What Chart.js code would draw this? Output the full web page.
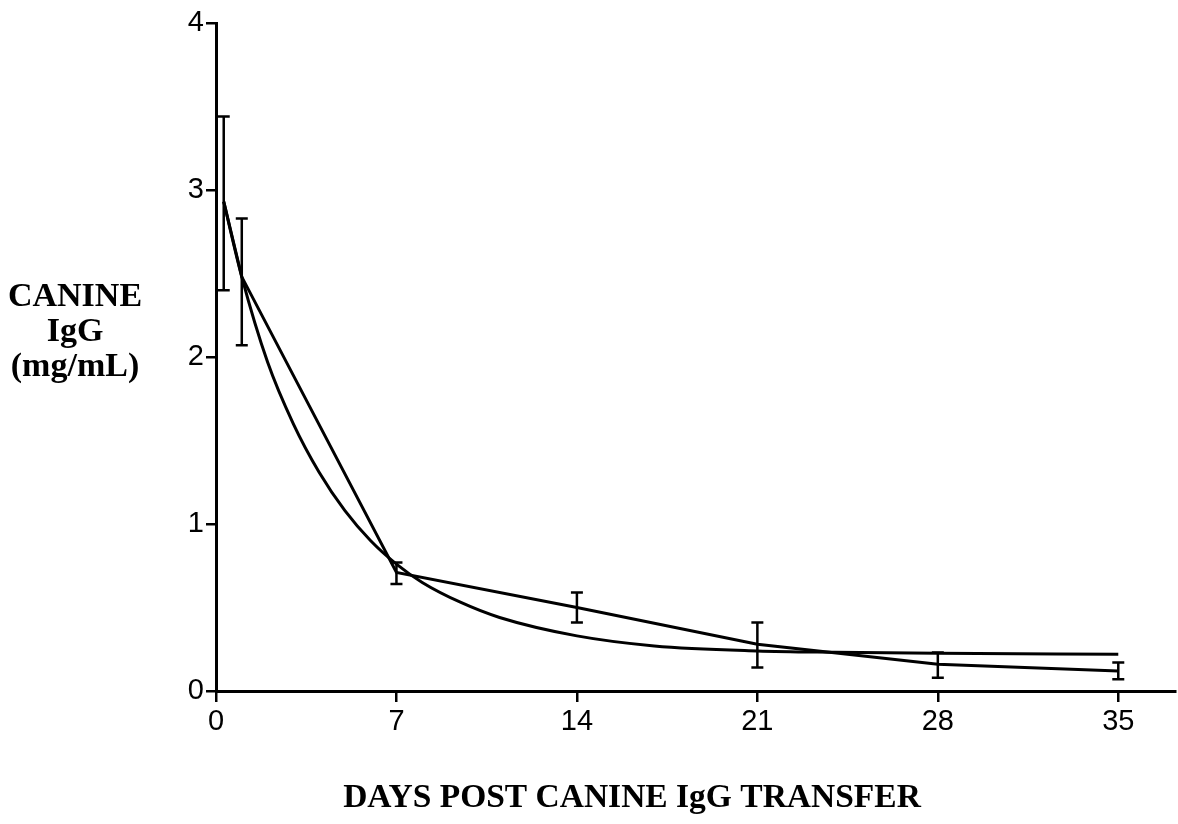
<!DOCTYPE html>
<html>
<head>
<meta charset="utf-8">
<title>Canine IgG</title>
<script src="https://cdn.jsdelivr.net/npm/chart.js@4.4.1/dist/chart.umd.min.js"></script>
<style>
    html, body { margin: 0; padding: 0; background: #fff; }
    #wrap { width: 1178px; height: 824px; }
</style>
</head>
<body>
<div id="wrap"><canvas id="iggChart" width="1178" height="824"></canvas></div>
<script>
// 측정값 (평균 ± 오차)
const days = [0.3, 1, 7, 14, 21, 28, 35];
const meanIgG = [2.93, 2.48, 0.71, 0.50, 0.28, 0.16, 0.12];
const errHigh = [3.44, 2.83, 0.77, 0.59, 0.41, 0.23, 0.17];
const errLow = [2.40, 2.07, 0.64, 0.41, 0.14, 0.08, 0.07];

// 곡선 적합 결과
const fitDays = [0.3, 1, 2, 3, 4, 5, 6, 7, 8, 9.5, 11, 14, 17, 21, 24, 28, 35];
const fitIgG = [2.93, 2.48, 1.97, 1.60, 1.31, 1.08, 0.90, 0.76, 0.65, 0.53, 0.44, 0.33, 0.27, 0.24, 0.232, 0.226, 0.22];

// 눈금
const xTicks = [0, 7, 14, 21, 28, 35];
const yTicks = [0, 1, 2, 3, 4];

const yTitleLines = ['CANINE', 'IgG', '(mg/mL)'];
const xTitle = 'DAYS POST CANINE IgG TRANSFER';

function toPoints(xs, ys) {
    return xs.map((x, i) => ({ x: x, y: ys[i] }));
}

// 오차 막대 그리기
const errorBarPlugin = {
    id: 'errorBars',
    afterDatasetsDraw(chart) {
        const ctx = chart.ctx;
        const xs = chart.scales.x;
        const ys = chart.scales.y;
        ctx.save();
        ctx.strokeStyle = '#000';
        ctx.lineWidth = 2.5;
        days.forEach((d, i) => {
            const px = xs.getPixelForValue(d);
            const top = ys.getPixelForValue(errHigh[i]);
            const bot = ys.getPixelForValue(errLow[i]);
            ctx.beginPath();
            ctx.moveTo(px, top);
            ctx.lineTo(px, bot);
            ctx.moveTo(px - 6, top);
            ctx.lineTo(px + 6, top);
            ctx.moveTo(px - 6, bot);
            ctx.lineTo(px + 6, bot);
            ctx.stroke();
        });
        ctx.restore();
    }
};

// 축 제목
const axisTitlePlugin = {
    id: 'axisTitles',
    afterDraw(chart) {
        const ctx = chart.ctx;
        ctx.save();
        ctx.fillStyle = '#000';
        ctx.font = 'bold 34px "Liberation Serif", "Times New Roman", serif';
        ctx.textAlign = 'center';
        ctx.textBaseline = 'middle';
        yTitleLines.forEach((line, i) => {
            ctx.fillText(line, 75, 297 + i * 35);
        });
        ctx.font = 'bold 33.5px "Liberation Serif", "Times New Roman", serif';
        ctx.fillText(xTitle, 632, 798);
        ctx.restore();
    }
};

const tickFont = { family: '"Liberation Sans", Arial, sans-serif', size: 29 };

new Chart(document.getElementById('iggChart').getContext('2d'), {
    type: 'line',
    data: {
        datasets: [
            {
                label: 'mean',
                data: toPoints(days, meanIgG),
                borderColor: '#000',
                borderWidth: 3,
                pointRadius: 0,
                tension: 0
            },
            {
                label: 'fit',
                data: toPoints(fitDays, fitIgG),
                borderColor: '#000',
                borderWidth: 3,
                pointRadius: 0,
                cubicInterpolationMode: 'monotone'
            }
        ]
    },
    options: {
        responsive: false,
        animation: false,
        layout: { padding: { left: 156, right: 3, top: 23, bottom: 73 } },
        plugins: {
            legend: { display: false },
            tooltip: { enabled: false }
        },
        scales: {
            x: {
                type: 'linear',
                min: 0,
                max: 37.2,
                afterBuildTicks: (scale) => { scale.ticks = xTicks.map(v => ({ value: v })); },
                afterFit: (scale) => { scale.height = 60; },
                border: { color: '#000', width: 3 },
                grid: { drawOnChartArea: false, drawTicks: true, tickLength: 11, color: '#000', lineWidth: 2.5 },
                ticks: { color: '#000', font: tickFont, padding: 3, maxRotation: 0 }
            },
            y: {
                min: 0,
                max: 4,
                afterBuildTicks: (scale) => { scale.ticks = yTicks.map(v => ({ value: v })); },
                afterFit: (scale) => { scale.width = 60; },
                border: { color: '#000', width: 3 },
                grid: { drawOnChartArea: false, drawTicks: true, tickLength: 10, color: '#000', lineWidth: 2.5 },
                ticks: { color: '#000', font: tickFont, padding: 2 }
            }
        }
    },
    plugins: [errorBarPlugin, axisTitlePlugin]
});
</script>
</body>
</html>
